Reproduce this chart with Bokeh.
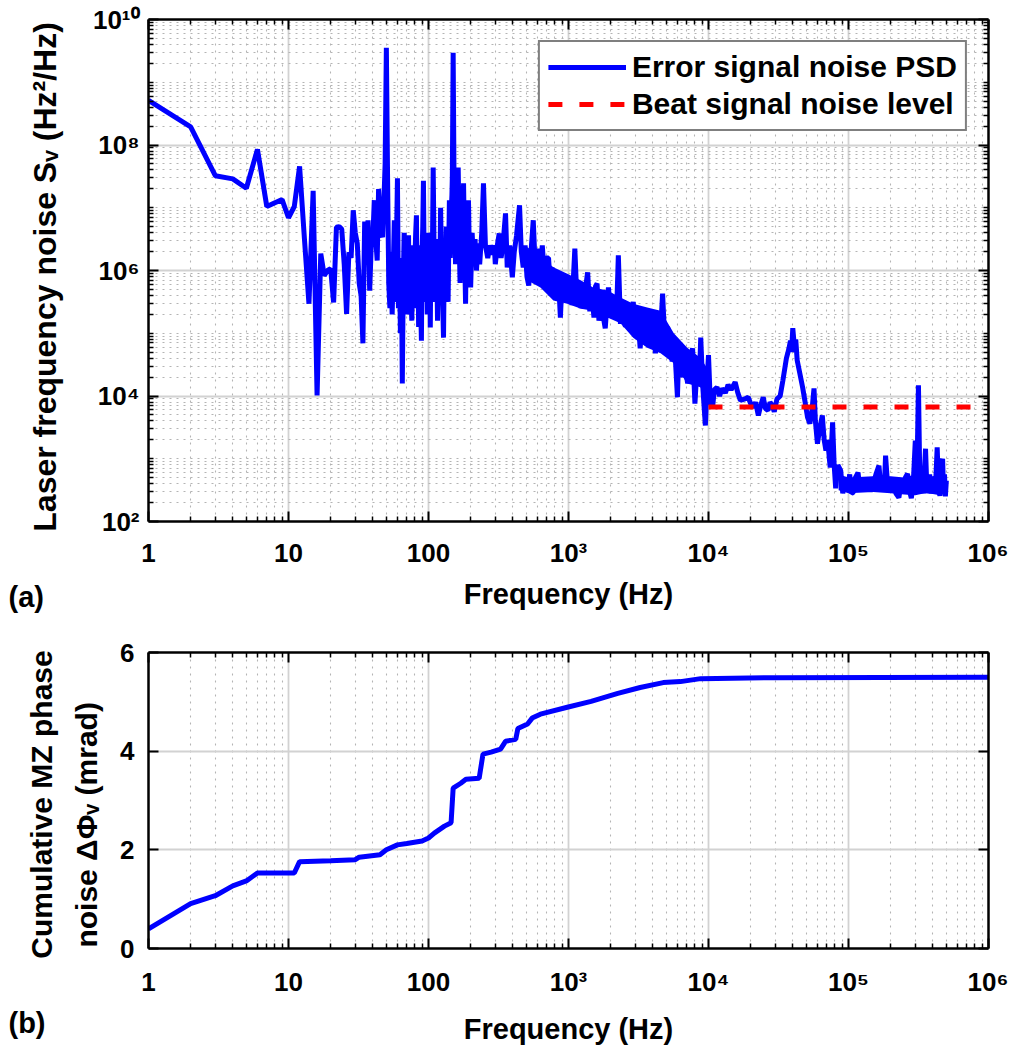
from bokeh.plotting import figure
from bokeh.models import (Range1d, FixedTicker, LogAxis, LinearAxis, Label,
                          Legend, LegendItem, BasicTickFormatter, CustomLabelingPolicy)
from bokeh.layouts import column
from bokeh.embed import file_html
from bokeh.resources import INLINE

FONT = "Liberation Sans"

# ---------------- data ----------------
psd_freq = [
    1, 2, 3, 4, 5, 6, 7, 8, 9, 10, 11, 12, 13, 14, 15, 16, 17, 18, 19, 20,
    21, 22, 23, 24, 25, 26, 27, 28, 29, 30, 31, 32, 33, 34, 35, 36, 37, 38, 39, 40,
    41, 42, 43, 44, 45, 46, 47, 48, 49, 50, 51, 52, 53, 54, 55, 56, 57, 58, 59, 60,
    61, 62, 63, 64, 65, 66, 67, 68, 69, 70, 71, 72, 73, 74, 75, 76, 77, 78, 79, 80,
    81, 82, 83, 84, 85, 86, 87, 88, 89, 90, 91, 92, 93, 94, 95, 96, 97, 98, 99, 100,
    102, 103, 104, 106, 108, 110, 112, 114, 116, 118, 120, 122, 124, 126, 128, 130,
    132, 134, 136, 138, 140, 141, 143, 145, 147, 148, 150, 152, 154, 156, 158, 160,
    163, 166, 168, 171, 174, 178, 181, 184, 187, 190, 193, 196, 200, 205, 210, 215,
    220, 226, 232, 240, 247, 255, 265, 275, 285, 295, 300, 310, 320, 330, 340, 355,
    365, 380, 397, 410, 425, 447, 460, 475, 490, 505, 520, 540, 560, 580, 600, 620,
    650, 670, 690, 720, 740, 760, 780, 800, 820, 845, 875, 900, 930, 960, 990, 1020,
    1060, 1110, 1150, 1190, 1230, 1270, 1320, 1370, 1420, 1470, 1520, 1560, 1600, 1650,
    1700, 1760, 1830, 1900, 1930, 2000, 2100, 2200, 2270, 2350, 2440, 2550, 2650, 2750,
    2900, 3000, 3100, 3250, 3400, 3550, 3700, 3850, 4000, 4180, 4350, 4500, 4700, 4900,
    5100, 5300, 5500, 5700, 6000, 6150, 6300, 6500, 6800, 7100, 7400, 7700, 8000, 8300,
    8600, 8800, 9100, 9500, 9800, 10000, 10300, 10700, 11000, 11500, 12000, 12500, 13200,
    13800, 14500, 15500, 16200, 16900, 18000, 19200, 20000, 20800, 21700, 22700, 23600,
    24600, 25500, 26600, 27500, 28500, 29500, 30800, 32500, 34000, 36000, 37500, 38500,
    39200, 40000, 41000, 42000, 43000, 45000, 47000, 49000, 51000, 53000, 55000, 56700,
    58000, 60000, 62500, 65000, 67000, 69000, 71000, 74000, 75500, 77000, 79000, 81000,
    84000, 88000, 91000, 95000, 98000, 102000, 105000, 108000, 112000, 117000, 121000,
    125000, 130000, 137000, 143000, 150000, 157000, 165000, 170000, 175000, 180000,
    184000, 190000, 195000, 202000, 210000, 218000, 229000, 237000, 245000, 255000,
    264000, 272000, 281000, 290000, 300000, 308000, 316000, 322000, 328000, 335000,
    342000, 355000, 362000, 370000, 380000, 390000, 400000, 410000, 420000, 430000,
    440000, 450000, 460000, 470000, 478000, 485000, 492000, 500000,
]
# log10 of the error-signal PSD (Hz^2/Hz)
psd_exp = [
    8.71, 8.29, 7.51, 7.46, 7.31, 7.93, 7.02, 7.08, 7.13, 6.84, 7.02, 7.66, 6.50, 5.47, 7.27, 4.01, 6.27, 5.92, 6.00, 6.03,
    5.49, 6.69, 6.70, 6.66, 6.10, 5.31, 6.29, 6.20, 6.96, 6.60, 6.43, 5.79, 5.60, 4.84, 6.78, 6.30, 6.80, 5.68, 6.40, 6.50,
    7.12, 6.50, 6.16, 7.30, 6.90, 6.60, 6.53, 7.10, 7.70, 9.55, 7.50, 5.80, 5.40, 6.30, 5.30, 6.00, 6.80, 5.50, 6.40, 7.47,
    5.40, 6.20, 5.00, 6.20, 4.20, 5.80, 6.60, 6.27, 5.30, 6.30, 5.50, 6.56, 5.30, 6.10, 5.60, 5.20, 6.00, 6.40, 5.40, 6.20,
    6.60, 6.88, 5.50, 6.30, 5.10, 6.00, 6.40, 5.40, 4.88, 6.30, 6.70, 7.43, 6.20, 5.60, 6.50, 5.50, 6.30, 5.30, 6.20, 6.60,
    6.40, 5.09, 6.20, 5.60, 7.64, 6.00, 5.50, 6.50, 5.20, 6.30, 5.50, 7.00, 6.10, 5.60, 4.93, 6.40,
    5.70, 6.70, 6.27, 5.50, 6.60, 7.12, 6.20, 6.90, 7.20, 7.50, 9.47, 7.60, 6.80, 6.10, 7.00, 6.30,
    7.64, 6.40, 5.80, 6.90, 6.00, 7.39, 6.30, 5.47, 6.70, 6.00, 7.12, 6.20, 5.73, 6.60, 6.10, 6.50,
    6.00, 6.43, 6.10, 6.60, 7.39, 6.40, 6.20, 6.40, 6.25, 6.40, 6.10, 6.40, 6.59, 6.20, 6.40, 6.91,
    6.05, 6.40, 5.89, 6.30, 6.55, 7.04, 6.30, 6.05, 6.40, 5.90, 5.76, 6.30, 6.80, 6.00, 6.35, 5.85,
    6.40, 5.95, 6.20, 6.20, 5.80, 6.05, 5.68, 6.00, 5.65, 5.95, 5.25, 5.85, 5.55, 5.90, 5.50, 5.80,
    5.45, 6.35, 5.50, 5.80, 5.40, 5.63, 5.70, 5.97, 5.35, 5.60, 5.25, 5.75, 5.79, 5.20,
    5.50, 5.30, 5.08, 5.60, 5.73, 5.25, 5.55, 5.25, 6.24, 5.15, 5.52, 5.10, 5.45, 5.05,
    5.50, 4.95, 5.41, 4.76, 5.35, 4.85, 5.30, 4.80, 5.20, 4.68, 5.15, 4.85, 5.63, 4.75,
    5.10, 4.90, 4.55, 4.90, 3.98, 4.80, 4.73, 4.30, 4.45, 4.20, 4.60, 4.76, 3.88, 4.50,
    4.25, 4.93, 4.15, 3.53, 4.30, 4.65, 3.90, 3.82, 4.10, 4.14, 4.00, 4.12, 4.05,
    4.18, 4.10, 4.22, 4.05, 3.93, 3.95, 3.98, 3.88, 3.82, 3.90, 3.69, 3.85,
    3.98, 3.80, 3.77, 3.90, 3.85, 3.75, 3.95, 4.00, 4.25, 4.60, 4.75, 4.88,
    4.70, 5.08, 4.80, 4.90, 4.57, 4.35, 4.14, 3.90, 3.66, 3.56, 3.80, 4.12,
    3.60, 3.24, 3.50, 3.69, 3.30, 3.13, 3.30, 2.86, 3.20, 3.58, 2.90, 2.53,
    2.90, 2.81, 2.45, 2.70, 2.50, 2.75, 2.45, 2.46, 2.70, 2.78, 2.48,
    2.70, 2.50, 2.65, 2.48, 2.60, 2.75, 2.89, 2.55, 2.70, 2.50,
    3.05, 2.60, 2.65, 2.50, 2.70, 2.45, 2.38, 2.60, 2.50, 2.70,
    2.76, 2.50, 2.37, 2.60, 3.29, 2.70, 4.17, 2.90, 2.50, 2.70,
    2.45, 3.16, 2.60, 2.50, 2.75, 2.45, 2.70, 2.45, 2.65, 3.18,
    2.50, 2.41, 2.90, 3.00, 2.45, 2.75, 2.40, 2.65,
]
# envelope of the dense part of the PSD trace (log10)
band_freq = [480, 510, 630, 780, 980, 1230, 1500, 1900, 2350, 2900, 3650, 4550,
             5650, 7050, 8750, 10000]
band_hi = [6.30, 6.37, 6.21, 6.05, 5.95, 5.84, 5.73, 5.68, 5.57, 5.47, 5.41, 5.36,
           5.00, 4.77, 4.61, 4.41]
band_lo = [6.05, 5.84, 5.73, 5.52, 5.47, 5.39, 5.36, 5.25, 5.16, 4.93, 4.77, 4.68,
           4.52, 4.20, 4.14, 3.98]
floor_freq = [85000, 100000, 150000, 200000, 250000, 300000, 350000, 400000, 450000, 500000]
floor_hi = [2.75, 2.70, 2.72, 2.72, 2.70, 2.75, 2.75, 2.72, 2.75, 2.70]
floor_lo = [2.50, 2.45, 2.47, 2.45, 2.43, 2.42, 2.45, 2.44, 2.42, 2.45]

beat_freq = [1e4, 1e6]
beat_level = [6.7e3, 6.7e3]

cum_freq = [1, 2, 3, 4, 5, 6, 11, 12, 20, 30, 32, 45, 50, 60, 70, 90, 100, 110,
            130, 145, 150, 170, 185, 230, 245, 280, 327, 355, 420, 435, 510, 550,
            630, 980, 1450, 2250, 3250, 4750, 6300, 8800, 30000, 1000000]
cum_phase = [0.40, 0.91, 1.07, 1.27, 1.37, 1.53, 1.53, 1.76, 1.78, 1.80, 1.85, 1.90,
             2.00, 2.10, 2.13, 2.18, 2.24, 2.34, 2.48, 2.55, 3.25, 3.35, 3.43, 3.45,
             3.94, 3.98, 4.04, 4.20, 4.24, 4.46, 4.55, 4.67, 4.75, 4.89, 5.01, 5.17,
             5.29, 5.39, 5.41, 5.47, 5.49, 5.50]

x_ticks = [1, 10, 100, 1e3, 1e4, 1e5, 1e6]
x_tick_labels = ["1", "10", "100", "10³", "10⁴", "10⁵", "10⁶"]
y1_ticks = [1e2, 1e4, 1e6, 1e8, 1e10]
y1_tick_labels = ["10²", "10⁴", "10⁶", "10⁸", "10¹⁰"]
y2_ticks = [0, 2, 4, 6]
y2_tick_labels = ["0", "2", "4", "6"]

psd = [10 ** e for e in psd_exp]
band_hi_v = [10 ** e for e in band_hi]
band_lo_v = [10 ** e for e in band_lo]
floor_hi_v = [10 ** e for e in floor_hi]
floor_lo_v = [10 ** e for e in floor_lo]


def log_minor(lo, hi):
    return [m * 10 ** k for k in range(lo, hi) for m in range(2, 10)]


x_minor = log_minor(0, 6)
y1_minor = log_minor(2, 10) + [1e3, 1e5, 1e7, 1e9]

NO_LABELS = "for (const i of indices) { indices.unset(i) }\nreturn indices"


def style_axis(ax, ticker, labels=None, show=True, lab_size="26px", standoff=12):
    ax.ticker = ticker
    ax.formatter = BasicTickFormatter()
    if labels is not None:
        ax.major_label_overrides = dict(zip(ticker.ticks, labels))
    ax.axis_line_color = "black"
    ax.axis_line_width = 2.5
    ax.major_tick_line_color = "black"
    ax.minor_tick_line_color = "black"
    ax.major_tick_line_width = 2
    ax.minor_tick_line_width = 1.5
    ax.major_tick_in = 10
    ax.major_tick_out = 0
    ax.minor_tick_in = 5
    ax.minor_tick_out = 0
    ax.major_label_text_font = FONT
    ax.major_label_text_font_style = "bold"
    ax.major_label_text_color = "black"
    ax.axis_label_text_font = FONT
    ax.axis_label_text_font_style = "bold"
    ax.axis_label_text_color = "black"
    if show:
        ax.major_label_text_font_size = lab_size
        ax.major_label_standoff = standoff
    else:
        ax.major_label_text_font_size = "0px"
        ax.major_label_policy = CustomLabelingPolicy(code=NO_LABELS)
        ax.major_label_standoff = 0
        ax.axis_label = None


def style_grid(p, xt, yt, yminor=True):
    p.xgrid.ticker = xt
    p.ygrid.ticker = yt
    for g in (p.xgrid, p.ygrid):
        g.grid_line_color = "#d2d2d2"
        g.grid_line_width = 1.8
    for g in ([p.xgrid, p.ygrid] if yminor else [p.xgrid]):
        g.minor_grid_line_color = "#b4b4b4"
        g.minor_grid_line_width = 1.1
        g.minor_grid_line_dash = "2 5"


def side_label(p, side, text, x, y, size, angle=0, align="left"):
    # free text placed in canvas pixels; kept in a side panel so it is not clipped
    p.add_layout(Label(x=x, y=y, x_units="canvas", y_units="canvas", text=text,
                       angle=angle, angle_units="deg", text_font=FONT,
                       text_font_style="bold", text_font_size=size, text_align=align,
                       text_baseline="middle", text_color="black"), side)


# ---------------- figure (a) ----------------
xt1 = FixedTicker(ticks=x_ticks, minor_ticks=x_minor)
yt1 = FixedTicker(ticks=y1_ticks, minor_ticks=y1_minor)

p1 = figure(width=1008, height=625, x_axis_type="log", y_axis_type="log",
            x_range=Range1d(1, 1e6), y_range=Range1d(1e2, 1e10),
            output_backend="svg", toolbar_location=None,
            min_border_left=148, min_border_right=20, min_border_top=19,
            min_border_bottom=104, outline_line_color=None,
            background_fill_color="white", border_fill_color="white")

style_axis(p1.xaxis[0], xt1, x_tick_labels, standoff=16)
style_axis(p1.yaxis[0], yt1, y1_tick_labels, standoff=9)
p1.xaxis[0].axis_label = "Frequency (Hz)"
p1.xaxis[0].axis_label_text_font_size = "29px"
p1.xaxis[0].axis_label_standoff = 7
p1.yaxis[0].axis_label = None

ax_top1 = LogAxis()
style_axis(ax_top1, xt1, show=False)
p1.add_layout(ax_top1, "above")
ax_right1 = LogAxis()
style_axis(ax_right1, yt1, show=False)
p1.add_layout(ax_right1, "right")

style_grid(p1, xt1, yt1)

p1.varea(x=band_freq, y1=band_lo_v, y2=band_hi_v, fill_color="#0000ff")
p1.varea(x=floor_freq, y1=floor_lo_v, y2=floor_hi_v, fill_color="#0000ff")
r_psd = p1.line(psd_freq, psd, line_color="#0000ff", line_width=5)
r_beat = p1.line(beat_freq, beat_level, line_color="#ff0000", line_width=5,
                 line_dash="14 17")

legend = Legend(items=[LegendItem(label="Error signal noise PSD", renderers=[r_psd]),
                       LegendItem(label="Beat signal noise level", renderers=[r_beat])],
                location="top_right")
legend.label_text_font = FONT
legend.label_text_font_style = "bold"
legend.label_text_font_size = "30px"
legend.label_text_color = "black"
legend.glyph_width = 78
legend.glyph_height = 30
legend.label_standoff = 6
legend.padding = 8
legend.spacing = 3
legend.margin = 21
legend.border_line_color = "black"
legend.border_line_width = 2
legend.background_fill_color = "white"
legend.background_fill_alpha = 1
p1.add_layout(legend)

side_label(p1, "left", "Laser frequency noise Sᵥ  (Hz²/Hz)", 44, 272, "32px",
           angle=90, align="center")
side_label(p1, "left", "(a)", 8, 596, "29px")

# ---------------- figure (b) ----------------
xt2 = FixedTicker(ticks=x_ticks, minor_ticks=x_minor)
yt2 = FixedTicker(ticks=y2_ticks, minor_ticks=[])

p2 = figure(width=1008, height=424, x_axis_type="log",
            x_range=Range1d(1, 1e6), y_range=Range1d(0, 6),
            output_backend="svg", toolbar_location=None,
            min_border_left=148, min_border_right=20, min_border_top=27,
            min_border_bottom=101, outline_line_color=None,
            background_fill_color="white", border_fill_color="white")

style_axis(p2.xaxis[0], xt2, x_tick_labels, standoff=18)
style_axis(p2.yaxis[0], yt2, y2_tick_labels, standoff=14)
p2.xaxis[0].axis_label = "Frequency (Hz)"
p2.xaxis[0].axis_label_text_font_size = "29px"
p2.xaxis[0].axis_label_standoff = 13
p2.yaxis[0].axis_label = None

ax_top2 = LogAxis()
style_axis(ax_top2, xt2, show=False)
p2.add_layout(ax_top2, "above")
ax_right2 = LinearAxis()
style_axis(ax_right2, yt2, show=False)
p2.add_layout(ax_right2, "right")

style_grid(p2, xt2, yt2, yminor=False)

p2.line(cum_freq, cum_phase, line_color="#0000ff", line_width=5)

side_label(p2, "left", "Cumulative MZ phase", 41, 179, "30px", angle=90, align="center")
side_label(p2, "left", "noise  ΔΦᵥ  (mrad)", 86, 191, "30px", angle=90, align="center")
side_label(p2, "left", "(b)", 8, 397, "29px")

layout = column(p1, p2, spacing=0)
open("out.html", "w").write(file_html(layout, INLINE))
